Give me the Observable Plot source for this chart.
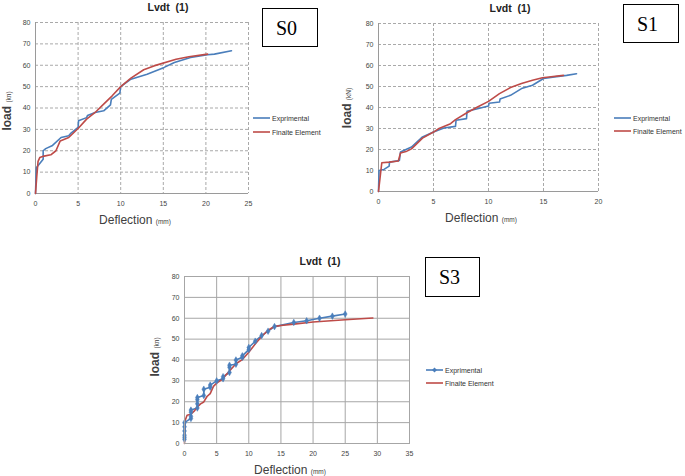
<!DOCTYPE html>
<html><head><meta charset="utf-8">
<script src="https://cdn.jsdelivr.net/npm/d3@7"></script>
<script src="https://cdn.jsdelivr.net/npm/@observablehq/plot@0.6"></script>
<style>
body{margin:0;background:#fff;}
#root{position:relative;width:685px;height:476px;overflow:hidden;font-family:"Liberation Sans",Arial,sans-serif;background:#fff;}
.abs{position:absolute;white-space:nowrap;line-height:1;}
.title{font-weight:bold;font-size:10.5px;color:#222;transform:translate(-50%,-50%);}
.box{border:1px solid #000;box-sizing:border-box;font-family:"Liberation Serif","Times New Roman",serif;font-size:20px;color:#000;padding-left:13px;display:flex;align-items:center;}
.xl{font-size:12px;color:#404040;transform:translate(-50%,-50%);}
.xl small,.yl small{font-size:6.5px;}
.yl{font-size:12px;color:#404040;font-weight:bold;transform:translate(-50%,-50%) rotate(-90deg);}
.yl small{font-weight:normal;}
.leg{font-size:7px;color:#333;display:flex;align-items:center;}
.leg svg{margin-right:2px;}
</style></head>
<body><div id="root"></div>
<script>
// ---------- data ----------
const yTicks = [0,10,20,30,40,50,60,70,80];
const xTicksS0 = [0,5,10,15,20,25];
const xTicksS1 = [0,5,10,15,20];
const xTicksS3 = [0,5,10,15,20,25,30,35];
const seriesNames = ["Exprimental","Finaite Element"];
const panelLabels = ["S0","S1","S3"];

const s0ExpX = [0,0.1,0.5,0.9,0.9,1.2,2,3,3.9,4.1,5,5.05,6,6.1,7,8,8.8,8.9,9.9,10,11.2,13.1,15.1,16.3,18.2,20.2,21,23];
const s0ExpY = [0,12,14,16,20,21,22.5,26.2,27,28,30.9,34,35.5,36.5,37.9,38.7,41.5,44,47,50,53.5,55.8,59,61.3,63.6,64.9,65.2,66.8];
const s0FeX = [0,0.15,0.3,0.5,1,1.8,2.4,2.9,3.9,5,6,7,8,9,10,11.2,12.7,13.9,16.5,18,20.2];
const s0FeY = [0,8,15,16.8,17.5,18.1,20,24.6,26.2,30.4,34.8,37.9,41.8,45.7,50,54,57.9,59.7,62.8,64,65.2];

const s1ExpX = [0,0.05,0.5,0.97,1,1.9,2,2.5,3,4,5,5.95,7,7.05,8,8.05,9,10,10.05,11,11.05,12,13,14,15,16,17.1,18];
const s1ExpY = [0,10,10.5,12.1,14,14.8,18.8,20,21.2,26,28.3,30.2,31,33.9,34.7,38.2,39.4,40.7,42,42.6,44,45.8,49,50.6,53.8,54.6,55.3,56.1];
const s1FeX = [0,0.3,1,1.8,2,2.5,3,4,5,5.5,6.55,7,8,9,10,11,12,13,14,14.9,15.5,16.8];
const s1FeY = [0,13.7,14,14.5,18.3,19,20.3,25.4,28.3,30,32.3,34.2,37.4,40.2,42.9,46.6,49.5,51.4,53,54.2,54.5,55.3];

const s3ExpX = [0,0,0,0,0,0,1,1,1,1,2,2,2,2,3,3,4,4,5,6,6,7,7,7,8,8,9,9,10,10,11,12,13,14,17,19,21,23,25];
const s3ExpY = [2,3,4,6,8,10,12,13,15,16,17,19,21,22,23,26,27,28,30,31,32,34,36.5,37.5,38,40,41.3,42,45,46,49,51.7,53.8,56,58,58.8,60,61,62];
const s3FeX = [0,0.1,0.4,1,1.5,2,2.5,3,3.5,4,4.5,5,6,6.5,7,8,9,10,11,11.9,12.9,13.9,15,17,20,25,29.3];
const s3FeY = [0,11,13.5,14,15.5,17.5,19,19.9,22.5,23.9,27.4,28.9,31,33,34.7,38.2,40.2,43.7,47.7,50.9,54,56,56.5,57.2,58.2,59.3,60.1];

// ---------- drawing ----------
const BLUE = "#4a7ebb", RED = "#be4b48";
const root = document.getElementById("root");
const pts = (xs, ys) => xs.map((x, i) => ({x, y: ys[i]}));

function chart(o) {
  const gridOpts = {stroke: o.grid, strokeOpacity: 1, strokeWidth: 1, strokeDasharray: o.dash};
  const marks = [
    Plot.gridX(o.xt, gridOpts),
    Plot.gridY(yTicks, gridOpts),
    Plot.ruleX([0], {stroke: o.axis, strokeWidth: 1}),
    Plot.ruleY([0], {stroke: o.axis, strokeWidth: 1}),
    Plot.axisX(o.xt, {tickSize: 0, tickPadding: 8, fontSize: 7, label: null, tickFormat: d => d}),
    Plot.axisY(yTicks, {tickSize: 0, tickPadding: 5, fontSize: 7, label: null, tickFormat: d => d}),
    Plot.line(pts(o.exp[0], o.exp[1]), {x: "x", y: "y", stroke: BLUE, strokeWidth: 1.6}),
    Plot.line(pts(o.fe[0], o.fe[1]), {x: "x", y: "y", stroke: RED, strokeWidth: 1.6})
  ];
  if (o.markers) marks.push(Plot.dot(pts(o.exp[0], o.exp[1]), {x: "x", y: "y", symbol: "diamond", r: 2, fill: BLUE, stroke: BLUE, strokeWidth: 0.5}));
  if (o.frame) marks.push(Plot.frame({stroke: o.grid, strokeWidth: 1}));
  const svg = Plot.plot({
    width: o.w, height: o.h,
    marginLeft: o.ml, marginRight: o.mr, marginTop: o.mt, marginBottom: o.mb,
    x: {domain: o.xd}, y: {domain: [0, 80]},
    style: {fontFamily: "Liberation Sans, Arial, sans-serif", color: "#444", background: "transparent", overflow: "visible"},
    marks
  });
  svg.style.position = "absolute";
  svg.style.left = o.left + "px";
  svg.style.top = o.top + "px";
  root.appendChild(svg);
}

function addDiv(cls, html, css) {
  const d = document.createElement("div");
  d.className = "abs " + cls;
  d.innerHTML = html;
  Object.assign(d.style, css);
  root.appendChild(d);
  return d;
}

function legend(x, y1, y2, markers) {
  const sw = (c, m) => `<svg width="17" height="6"><line x1="0" x2="17" y1="3" y2="3" stroke="${c}" stroke-width="1.6"/>${m ? '<path d="M8.5,0.5L11,3L8.5,5.5L6,3Z" fill="' + c + '"/>' : ''}</svg>`;
  addDiv("leg", sw(BLUE, markers) + seriesNames[0], {left: x + "px", top: (y1 - 3.5) + "px"});
  addDiv("leg", sw(RED, false) + seriesNames[1], {left: x + "px", top: (y2 - 3.5) + "px"});
}

// S0
chart({left: 0, top: 0, w: 260, h: 215, ml: 35, mr: 12, mt: 22, mb: 22, xd: [0, 25], xt: xTicksS0,
  grid: "#a9a9a9", dash: "3,2", axis: "#9a9a9a", exp: [s0ExpX, s0ExpY], fe: [s0FeX, s0FeY]});
addDiv("title", "Lvdt&nbsp; (1)", {left: "168px", top: "7px"});
addDiv("box", panelLabels[0], {left: "262px", top: "8px", width: "56px", height: "39px"});
legend(253, 118, 132, false);
addDiv("xl", "Deflection <small>(mm)</small>", {left: "135px", top: "220px"});
addDiv("yl", "load <small>(kn)</small>", {left: "7px", top: "111px"});

// S1
chart({left: 340, top: 0, w: 270, h: 213, ml: 38, mr: 12, mt: 23, mb: 22, xd: [0, 20], xt: xTicksS1,
  grid: "#a9a9a9", dash: "3,2", axis: "#9a9a9a", exp: [s1ExpX, s1ExpY], fe: [s1FeX, s1FeY]});
addDiv("title", "Lvdt&nbsp; (1)", {left: "510px", top: "8px"});
addDiv("box", panelLabels[1], {left: "623px", top: "4px", width: "56px", height: "39px"});
legend(614, 118, 131, false);
addDiv("xl", "Deflection <small>(mm)</small>", {left: "481px", top: "218px"});
addDiv("yl", "load <small>(kN)</small>", {left: "347px", top: "108px"});

// S3
chart({left: 150, top: 254, w: 270, h: 211, ml: 34, mr: 11, mt: 22, mb: 22, xd: [0, 35], xt: xTicksS3,
  grid: "#a6a6a6", dash: null, axis: "#8c8c8c", frame: true, markers: true, exp: [s3ExpX, s3ExpY], fe: [s3FeX, s3FeY]});
addDiv("title", "Lvdt&nbsp; (1)", {left: "320px", top: "261px"});
addDiv("box", panelLabels[2], {left: "425px", top: "257px", width: "55px", height: "40px"});
legend(426, 370, 383, true);
addDiv("xl", "Deflection <small>(mm)</small>", {left: "290px", top: "470px"});
addDiv("yl", "load <small>(kn)</small>", {left: "155px", top: "357px"});
</script>
</body></html>
